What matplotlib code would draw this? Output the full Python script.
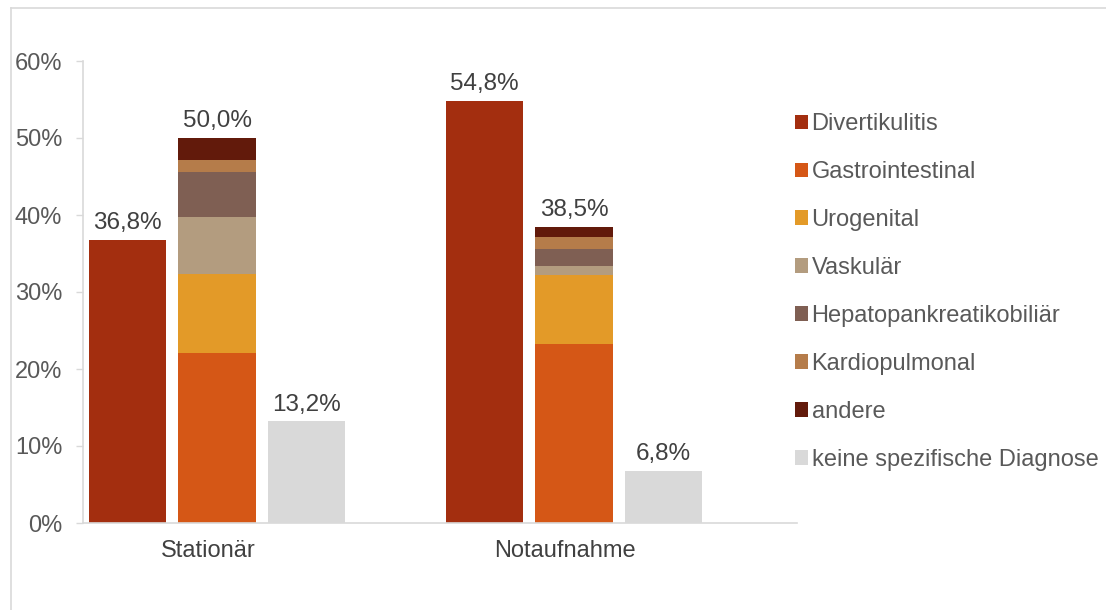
import numpy as np
import matplotlib.pyplot as plt
from matplotlib.lines import Line2D
from matplotlib.ticker import FuncFormatter

plt.rcParams['font.family'] = ['Liberation Sans', 'DejaVu Sans']

groups = ['Stationär', 'Notaufnahme']

# percentages
divertikulitis = [36.8, 54.8]
gastrointestinal = [22.1, 23.3]
urogenital = [10.3, 8.9]
vaskulaer = [7.3, 1.2]
hepatopankreatikobiliaer = [5.9, 2.2]
kardiopulmonal = [1.5, 1.6]
andere = [2.9, 1.3]
keine_diagnose = [13.2, 6.8]

stack = [
    ('Gastrointestinal', gastrointestinal, '#D55716'),
    ('Urogenital', urogenital, '#E39A28'),
    ('Vaskulär', vaskulaer, '#B39C7F'),
    ('Hepatopankreatikobiliär', hepatopankreatikobiliaer, '#7F5F53'),
    ('Kardiopulmonal', kardiopulmonal, '#B57C4A'),
    ('andere', andere, '#621A0B'),
]


def fmt(v):
    return f'{v:.1f}'.replace('.', ',') + '%'


fig = plt.figure(figsize=(11.06, 6.10), dpi=100)
ax = fig.add_axes([83 / 1106, 1 - 523 / 610, 714 / 1106, 462 / 610])

x = np.arange(len(groups))
off = 0.25
w = 0.2165

handles = []
b_div = ax.bar(x - off, divertikulitis, w, color='#A32E0F', label='Divertikulitis')
handles.append(b_div)

bottom = np.zeros(len(groups))
top_bar = None
for name, vals, col in stack:
    top_bar = ax.bar(x, vals, w, bottom=bottom, color=col, label=name)
    handles.append(top_bar)
    bottom += np.array(vals)

b_keine = ax.bar(x + off, keine_diagnose, w, color='#D9D9D9',
                 label='keine spezifische Diagnose')
handles.append(b_keine)

lab_kw = dict(padding=4, fontsize=17.5, color='#404040')
ax.bar_label(b_div, labels=[fmt(v) for v in divertikulitis], **lab_kw)
ax.bar_label(top_bar, labels=[fmt(v) for v in bottom], **lab_kw)
ax.bar_label(b_keine, labels=[fmt(v) for v in keine_diagnose], **lab_kw)

ax.set_ylim(0, 60)
ax.set_xlim(-0.3754, 1.6246)
ax.set_yticks(range(0, 61, 10))
ax.yaxis.set_major_formatter(FuncFormatter(lambda v, p: f'{v:.0f}%'))
ax.tick_params(axis='y', length=5, width=1, color='#D9D9D9', pad=10,
               labelsize=17, labelcolor='#595959')
ax.set_xticks(x - 0.025)
ax.set_xticklabels(groups)
ax.tick_params(axis='x', length=0, pad=12, labelsize=17, labelcolor='#404040')

for s in ['top', 'right']:
    ax.spines[s].set_visible(False)
for s in ['left', 'bottom']:
    ax.spines[s].set_color('#D9D9D9')
    ax.spines[s].set_linewidth(1.2)

fig.legend(handles, [h.get_label() for h in handles], loc='upper left',
           bbox_to_anchor=(795 / 1106, 1 - 113 / 610), frameon=False,
           fontsize=17, handlelength=0.55, handleheight=0.55,
           handletextpad=0.15, labelspacing=1.1, borderpad=0,
           borderaxespad=0, labelcolor='#595959')

# outer frame of the chart area
fig.add_artist(Line2D([11 / 1106, 11 / 1106], [0, 1 - 8 / 610],
                      transform=fig.transFigure, color='#D9D9D9', lw=1.2))
fig.add_artist(Line2D([11 / 1106, 1], [1 - 8 / 610, 1 - 8 / 610],
                      transform=fig.transFigure, color='#D9D9D9', lw=1.2))

fig.savefig('out.png', dpi=100)
